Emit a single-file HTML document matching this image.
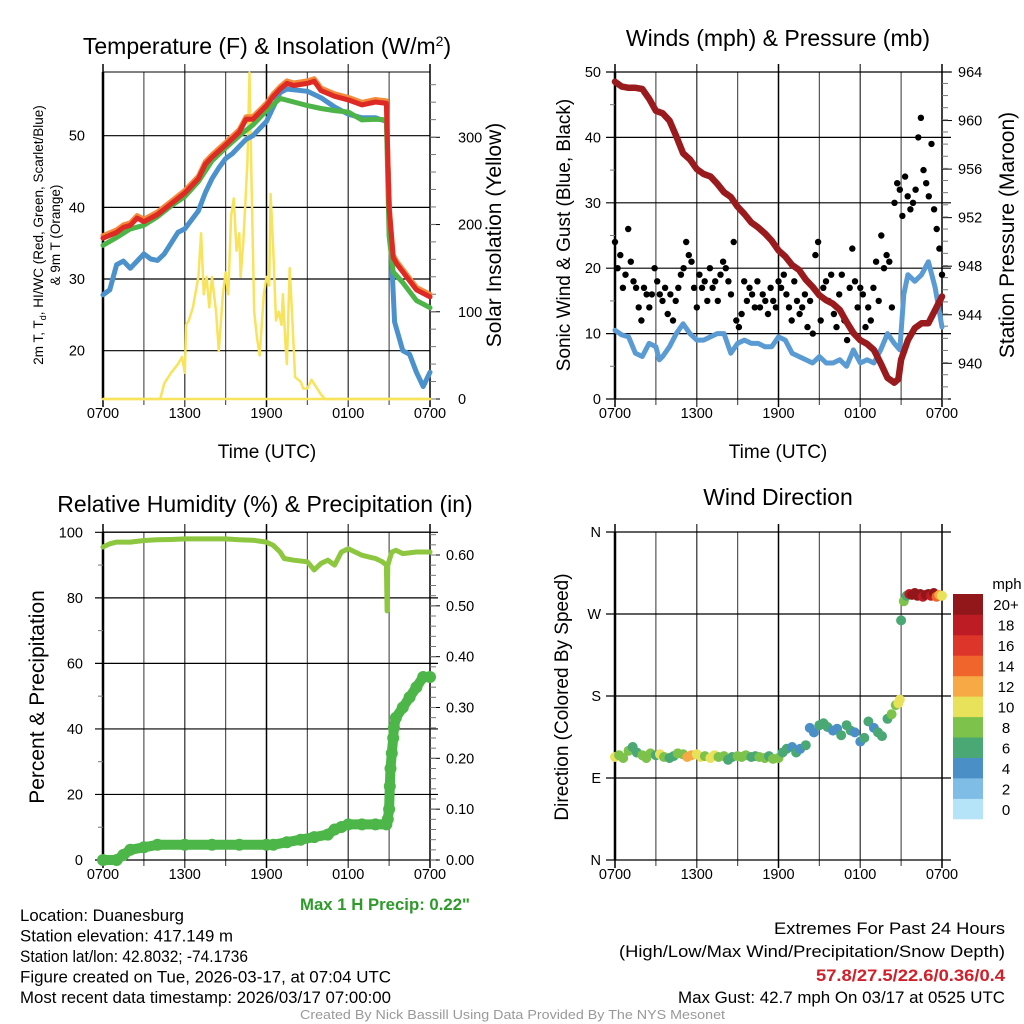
<!DOCTYPE html>
<html><head><meta charset="utf-8"><style>
html,body{margin:0;padding:0;background:#fff;}
svg{display:block;font-family:"Liberation Sans",sans-serif;}
.tk{font-size:14.5px;fill:#000;}
.ttl{font-size:23px;fill:#000;text-anchor:middle;}
.ax{font-size:19px;fill:#000;text-anchor:middle;}
.info{font-family:"Liberation Sans Narrow","Liberation Sans",sans-serif;font-size:17px;fill:#000;}
</style></head><body>
<svg id="fig" width="1024" height="1024" viewBox="0 0 1024 1024" xmlns="http://www.w3.org/2000/svg"></svg>
<script>
// ---------- DATA ----------
const tempHours=[0,1,1.5,2,2.5,3,4,5,6,7,7.5,8,9,10,10.5,11,12,12.5,13,13.5,14,15,15.5,16,17,18,19,20,20.8,21,21.3,21.6,22,23,24];
const tempRed=[35.7,36.5,37.2,37.5,38.5,38,39,40.5,42,44,46,47,48.7,50.5,52.3,52.3,54.2,55.5,56.5,57.3,57,57.3,57.6,56.3,55.5,55,54.3,54.7,54.5,40,33,32,31,28.5,27.5];
const greenHours=[0,1,2,3,4,5,6,7,8,9,10,11,12,13,14,15,16,17,18,19,20,20.8,21,21.3,22,23,24];
const tempGreen=[34.7,35.8,37,37.5,38.7,40.2,41.5,43.6,46.5,48.3,50,51.5,53.5,55.2,54.7,54.2,53.8,53.5,53.3,52.2,52.3,52.2,36,31,29.5,27,26];
const dewHours=[0,0.5,1,1.5,2,2.5,3,3.5,4,4.5,5,5.5,6,7,7.5,8,8.5,9,9.5,10,10.5,11,11.5,12,12.5,13,13.5,14,15,16,17,18,19,20,20.8,21.1,21.4,22,22.5,23,23.5,24];
const tempDew=[27.8,28.5,32,32.5,31.5,32.5,33.5,32.8,32.6,33.5,35,36.5,37,39.5,42,44,45.5,46.8,47.5,48.5,49.5,50,51,52,54,56,56.5,56.4,56.2,55.3,54,53,52.5,52.5,52,36,24,20,19.5,17,15,17];
const solarHours=[0,4,4.2,4.5,5,5.5,5.8,6,6.1,6.3,6.6,7,7.2,7.4,7.6,7.8,8,8.3,8.5,8.8,9,9.2,9.4,9.6,9.8,10,10.1,10.3,10.6,10.75,10.9,11.1,11.3,11.5,11.8,12,12.2,12.3,12.5,12.7,12.9,13.1,13.2,13.4,13.5,13.7,13.9,14.1,14.5,14.7,15,15.3,15.6,16,16.3,24];
const solarVals=[0,0,0,18,30,40,48,30,85,90,105,140,190,120,140,105,140,100,55,120,145,120,210,230,170,190,140,180,270,374,250,100,70,50,120,140,130,235,170,90,100,85,120,60,40,150,90,25,20,12,12,22,15,5,0,0];
const presHours=[0,0.5,1,1.5,2,2.5,3,3.5,4,4.5,5,5.5,6,6.5,7,7.5,8,8.5,9,9.5,10,10.5,11,11.5,12,12.5,13,13.5,14,14.5,15,15.5,16,16.5,17,17.5,18,18.5,19,19.5,20,20.5,20.8,21,21.5,22,22.5,23,23.5,24];
const presVals=[963.2,962.8,962.7,962.7,962.6,961.8,960.8,960.6,960,958.7,957.3,956.8,956,955.6,955.4,954.8,954.1,953.7,952.9,952.3,951.6,951.2,950.7,950.1,949.3,948.8,948.1,947.7,946.9,946.3,945.6,945.2,944.9,944.4,943.4,942.5,941.9,941.6,941.1,940,938.8,938.4,938.7,940.3,941.9,942.9,943.3,943.3,944.4,945.5];
const windHours=[0,0.5,1,1.5,2,2.5,3,3.25,3.5,4,4.5,5,5.5,6,6.5,7,7.5,8,8.5,9,9.5,10,10.5,11,11.5,12,12.5,13,13.5,14,14.5,15,15.5,16,16.5,17,17.5,18,18.5,19,19.5,20,20.5,20.9,21.2,21.5,22,22.5,23,23.5,24];
const windVals=[10.5,9.8,9.5,7,6.5,8.5,8,6,6.5,8,10,11.5,10,9,9,9.5,10,10,7,8.5,9,8.5,8.5,8,8,9.5,9,7,6.5,6,5.5,6.5,5.5,5.5,6,5,7.5,5.5,6,5.5,7.5,10,8.5,7.5,16,19,18,19,21,17,11];
const gustVals=[24,20,22,17,19, 26,21,18,17,14, 12,17,16,14,16, 20,18,16,15,17, 13,16,12,15,17, 19,20,24,22,21, 17,14,19,17,18, 15,20,17,18,15, 19,21,20,18,16, 24,12,11,13,18, 15,17,16,14,18, 14,16,15,13,17, 15,14,18,17,19, 16,14,12,18,15, 13,14,16,11,15, 10,22,24,12,17, 18,15,19,13,11, 16,19,12,9,17, 23,18,14,17,16, 11,14,12,17,21, 15,25,20,22,21, 14,30,33,32,28, 34,31,29,30,32, 40,43,35,33,31, 39,29,26,23,19];
const rhHours=[0,0.5,1,2,3,4,5,6,7,8,9,10,11,12,12.5,13,13.3,14,15,15.5,16,16.5,17,17.5,18,18.5,19,19.5,20,20.5,20.8,20.85,20.9,21.2,21.5,22,23,24];
const rhVals=[95.5,96.5,97,97,97.5,97.7,97.8,98,98,98,98,97.7,97.6,97,96,94,92,91.5,91,88.5,90.5,91.5,90,94,95,94,93,92.5,92,91,90,76,90,94,94.5,93.5,94,94];
const precipHours=[0,1,1.5,2,3,4,6,8,10,12,12.5,13.5,14.5,15.5,16.5,17,17.5,18,19,20,20.8,20.9,21,21.05,21.1,21.2,21.3,21.35,21.5,22,22.5,23,23.5,24];
const precipVals=[0,0,0.01,0.02,0.025,0.03,0.03,0.03,0.03,0.03,0.03,0.035,0.04,0.045,0.05,0.06,0.065,0.07,0.07,0.07,0.07,0.08,0.1,0.145,0.18,0.21,0.24,0.26,0.28,0.3,0.32,0.34,0.36,0.36];
const dirHours=[0,0.3,0.6,1,1.3,1.6,2,2.3,2.6,3,3.3,3.6,4,4.3,4.6,5,5.3,5.6,6,6.3,6.6,7,7.3,7.6,8,8.3,8.6,9,9.3,9.6,10,10.3,10.6,11,11.3,11.6,12,12.3,12.6,13,13.3,13.6,14,14.3,14.6,15,15.3,15.6,16,16.3,16.6,17,17.3,17.6,18,18.3,18.6,19,19.3,19.6,20,20.3,20.6,20.8,20.9,21,21.2,21.4,21.6,21.8,22,22.2,22.4,22.6,22.8,23,23.2,23.4,23.6,23.8,24];
const dirVals=[113,115,112,120,124,118,115,112,117,115,116,113,112,114,117,116,113,115,116,113,114,112,115,113,114,110,113,114,113,115,113,114,113,112,114,111,112,118,122,124,118,122,126,145,140,148,150,146,142,144,137,148,142,140,130,134,152,145,140,136,155,160,170,172,176,263,284,290,292,291,293,290,292,289,291,292,290,293,289,291,290];
const dirSpd=[10,9,8,8,7,7,8,9,9,6,10,8,7,6,8,9,13,12,11,10,9,10,10,9,8,7,7,8,8,9,6,7,8,8,7,8,9,7,6,5,6,5,6,4,5,6,6,7,4,5,6,6,7,4,5,6,7,5,6,7,6,8,9,10,10,6,8,7,18,20,21,22,20,19,21,22,18,20,15,12,10];
const tempTicks=[20,30,40,50];
const solarTicks=[0,100,200,300];
const windTicks=[0,10,20,30,40,50];
const presTicks=[940,944,948,952,956,960,964];
const rhTicks=[0,20,40,60,80,100];
const precipTicks=[0,0.1,0.2,0.3,0.4,0.5,0.6];
const dirTicks=[0,90,180,270,360];
const dirLabels=['N','E','S','W','N'];
const timeLabels=['0700','1300','1900','0100','0700'];
const spdBins=['0','2','4','6','8','10','12','14','16','18','20+'];
const spdColors=['#b5e3f8','#7fbce6','#4a8fc6','#4aa874','#7cc24b','#e8e15a','#f6a945','#ef652b','#dd352a','#be1c25','#92171b'];

// ---------- HELPERS ----------
const NS='http://www.w3.org/2000/svg';
const svg=document.getElementById('fig');
function mk(tag,attrs,parent,text){const e=document.createElementNS(NS,tag);for(const k in attrs)e.setAttribute(k,attrs[k]);if(text!==undefined)e.textContent=text;(parent||svg).appendChild(e);return e;}
function lin(d0,d1,r0,r1){return v=>r0+(v-d0)*(r1-r0)/(d1-d0);}
function path(xs,ys,fx,fy){return xs.map((h,i)=>(i?'L':'M')+fx(h).toFixed(1)+','+fy(ys[i]).toFixed(1)).join('');}

function panel(L,R,T,B,name){
  const g=mk('g',{});
  
  
  const fx=lin(0,24,L,R);
  for(let i=0;i<5;i++){
    const x=fx(i*6);
    const ln=mk('line',{x1:x,x2:x,y1:T-8,y2:B+8,stroke:i%2?'#555':'#000','stroke-width':1.5},g);
    
    
    const t=mk('text',{x:x,y:B+19,class:'tk','text-anchor':'middle'},g,timeLabels[i]);
    
    
  }
  for(let i=0;i<4;i++){const x=fx(i*6+3);mk('line',{x1:x,x2:x,y1:T,y2:B+6,stroke:'#555','stroke-width':1.2},g);}
  mk('rect',{x:L,y:T,width:R-L,height:B-T,fill:'none',stroke:'#000','stroke-width':1},g);
  mk('line',{x1:L,x2:L,y1:T,y2:B,stroke:'#000','stroke-width':2.5},g);
  return {g,fx};
}
function hgrid(g,L,R,y,ext){mk('line',{x1:L-ext,x2:R+ext,y1:y,y2:y,stroke:'#000','stroke-width':1.2},g);}
function ytick(g,x,y,txt,anchor,name){const t=mk('text',{x:x,y:y+5,class:'tk','text-anchor':anchor},g,txt);}
function rightTicks(g,R,T,B,step){for(let y=B;y>=T-0.5;y-=step){mk('line',{x1:R,x2:R+6,y1:y,y2:y,stroke:'#777','stroke-width':1},g);}}
function title(x,y,txt,name,cls,rot){const t=mk('text',{x:x,y:y,class:cls||'ttl',transform:rot?`rotate(-90 ${x} ${y})`:''},svg);t.innerHTML=txt;return t;}
function line(g,xs,ys,fx,fy,color,w,name){const p=mk('path',{d:path(xs,ys,fx,fy),fill:'none',stroke:color,'stroke-width':w,'stroke-linejoin':'round','stroke-linecap':'round'},g);return p;}

// ---------- PANEL 1: Temperature ----------
(function(){
  const L=103,R=430,T=72,B=399;
  const {g,fx}=panel(L,R,T,B,'temperature-panel');
  const fy=lin(20,50,350.7,135.7), fs=lin(0,300,399,137.3);
  tempTicks.forEach(v=>{hgrid(g,L,R,fy(v),0);ytick(g,L-18,fy(v),String(v),'end','left-tick-label');});
  solarTicks.forEach(v=>{mk('line',{x1:R,x2:R+10,y1:fs(v),y2:fs(v),stroke:'#000'},g);ytick(g,R+28,fs(v),String(v),'start','right-tick-label');});
  rightTicks(g,R,T,B,87.3/5);
  line(g,solarHours,solarVals,fx,fs,'#f8e35c',2.5,'solar-insolation-line');
  line(g,dewHours,tempDew,fx,fy,'#4b92cc',5,'dewpoint-line');
  line(g,greenHours,tempGreen,fx,fy,'#4db447',5,'green-temp-line');
  line(g,tempHours,tempRed.map(v=>v+0.35),fx,fy,'#f58a3a',5,'9m-temp-line');
  line(g,tempHours,tempRed,fx,fy,'#dd2a25',5,'2m-temp-line');
  mk('line',{x1:L,x2:R,y1:B,y2:B,stroke:'#f8e35c','stroke-width':2.5},g);
})();
title(267,54,'Temperature (F) &amp; Insolation (W/m<tspan dy="-8" font-size="14">2</tspan><tspan dy="8">)</tspan>','temperature-title');
title(43,235,'2m T, T<tspan dy="3" font-size="9">d</tspan><tspan dy="-3">, HI/WC (Red, Green, Scarlet/Blue)</tspan>','temperature-y-title','ax',true).setAttribute('style','font-size:13.5px');
title(60,235,'&amp; 9m T (Orange)','temperature-y-title-2','ax',true).setAttribute('style','font-size:13.5px');
title(501,235,'Solar Insolation (Yellow)','solar-y-title','ax',true).setAttribute('style','font-size:21px');
title(267,458,'Time (UTC)','temperature-x-title','ax');

// ---------- PANEL 2: Winds ----------
(function(){
  const L=615,R=942,T=72,B=399;
  const {g,fx}=panel(L,R,T,B,'winds-panel');
  const fy=lin(0,50,399,72), fp=lin(940,964,363.3,72);
  windTicks.forEach(v=>{hgrid(g,L,R,fy(v),9);ytick(g,L-14,fy(v),String(v),'end','left-tick-label');});
  presTicks.forEach(v=>{mk('line',{x1:R,x2:R+10,y1:fp(v),y2:fp(v),stroke:'#000'},g);ytick(g,R+16,fp(v),String(v),'start','right-tick-label');});
  rightTicks(g,R,T,B,fp(940)-fp(941));
  for(let v=5;v<50;v+=10){mk('line',{x1:L-5,x2:L,y1:fy(v),y2:fy(v),stroke:'#777'},g);}
  line(g,windHours,windVals,fx,fy,'#5a9bd4',5,'sonic-wind-line');
  const n=gustVals.length;
  gustVals.forEach((v,i)=>{const c=mk('circle',{cx:fx(i*24/(n-1)).toFixed(1),cy:fy(v).toFixed(1),r:3.2,fill:'#000'},g);
    
    });
  line(g,presHours,presVals,fx,fp,'#9a1b1d',6.5,'station-pressure-line');
})();
title(778,46,'Winds (mph) &amp; Pressure (mb)','winds-title');
title(570,235,'Sonic Wind &amp; Gust (Blue, Black)','wind-y-title','ax',true);
title(1014,235,'Station Pressure (Maroon)','pressure-y-title','ax',true).setAttribute('style','font-size:21px');
title(778,458,'Time (UTC)','winds-x-title','ax');

// ---------- PANEL 3: RH & Precip ----------
(function(){
  const L=103,R=430,T=532,B=860;
  const {g,fx}=panel(L,R,T,B,'humidity-panel');
  const fy=lin(0,100,860,532.3), fq=lin(0,0.6,860,555);
  rhTicks.forEach(v=>{hgrid(g,L,R,fy(v),8);ytick(g,L-20,fy(v),String(v),'end','left-tick-label');});
  for(let v=10;v<100;v+=20){mk('line',{x1:L-5,x2:L,y1:fy(v),y2:fy(v),stroke:'#777'},g);}
  precipTicks.forEach(v=>{mk('line',{x1:R,x2:R+10,y1:fq(v),y2:fq(v),stroke:'#000'},g);ytick(g,R+16,fq(v),v.toFixed(2),'start','right-tick-label');});
  rightTicks(g,R,T,B,(fq(0)-fq(0.1))/5);
  line(g,rhHours,rhVals,fx,fy,'#8dc63f',5,'relative-humidity-line');
  line(g,precipHours,precipVals,fx,fq,'#4cb648',10,'precip-line');
  precipHours.forEach((h,i)=>{const c=mk('circle',{cx:fx(h).toFixed(1),cy:fq(precipVals[i]).toFixed(1),r:6,fill:'#4cb648'},g);
    
    });
})();
title(265,512,'Relative Humidity (%) &amp; Precipitation (in)','humidity-title');
title(44,697,'Percent &amp; Precipitation','humidity-y-title','ax',true).setAttribute('style','font-size:21px');

// ---------- PANEL 4: Wind direction ----------
(function(){
  const L=615,R=942,T=532,B=860;
  const {g,fx}=panel(L,R,T,B,'wind-direction-panel');
  const fy=lin(0,360,860,532);
  dirTicks.forEach((v,i)=>{hgrid(g,L,R,fy(v),9);ytick(g,L-14,fy(v),dirLabels[i],'end','direction-tick-label');});
  dirHours.forEach((h,i)=>{const b=Math.min(10,Math.floor(dirSpd[i]/2));
    const c=mk('circle',{cx:fx(h).toFixed(1),cy:fy(dirVals[i]).toFixed(1),r:5,fill:spdColors[b]},g);
    
    });
  const cb=mk('g',{});
  
  
  const h=(819-594)/11;
  spdBins.forEach((lab,i)=>{const y=819-(i+1)*h;
    const r=mk('rect',{x:953,y:y.toFixed(1),width:30,height:(h+0.3).toFixed(1),fill:spdColors[i]},cb);
    
    
    mk('text',{x:1006,y:(y+h/2+6).toFixed(1),class:'tk','text-anchor':'middle',style:'font-size:15px'},cb,lab);});
  mk('text',{x:1007,y:589,class:'tk','text-anchor':'middle',style:'font-size:15px'},cb,'mph');
})();
title(778,505,'Wind Direction','wind-direction-title');
title(568,697,'Direction (Colored By Speed)','direction-y-title','ax',true);

// ---------- INFO TEXT ----------
const infoL=[['Location: Duanesburg',164],['Station elevation: 417.149 m',213],['Station lat/lon: 42.8032; -74.1736',228],['Figure created on Tue, 2026-03-17, at 07:04 UTC',371],['Most recent data timestamp: 2026/03/17 07:00:00',371]];
infoL.forEach((s,i)=>{const t=mk('text',{x:20,y:921+i*20.5,class:'info',textLength:s[1],lengthAdjust:'spacingAndGlyphs'},svg,s[0]);
  
  });
const pr=mk('text',{x:300,y:910,class:'info',textLength:170,lengthAdjust:'spacingAndGlyphs',style:'font-weight:bold;fill:#2e9a2a'},svg,'Max 1 H Precip: 0.22"');


const infoR=[['Extremes For Past 24 Hours',934,'#000','',231],['(High/Low/Max Wind/Precipitation/Snow Depth)',957,'#000','',386],['57.8/27.5/22.6/0.36/0.4',981,'#d0202a','bold',189],['Max Gust: 42.7 mph On 03/17 at 0525 UTC',1003,'#000','',327]];
infoR.forEach(r=>{const t=mk('text',{x:1005-r[4],y:r[1],class:'info',textLength:r[4],lengthAdjust:'spacingAndGlyphs',style:`fill:${r[2]};font-weight:${r[3]||'normal'}`},svg,r[0]);
  
  });
const cr=mk('text',{x:300,y:1019,class:'info',textLength:425,lengthAdjust:'spacingAndGlyphs',style:'fill:#999;font-size:13px'},svg,'Created By Nick Bassill Using Data Provided By The NYS Mesonet');


</script>
</body></html>
